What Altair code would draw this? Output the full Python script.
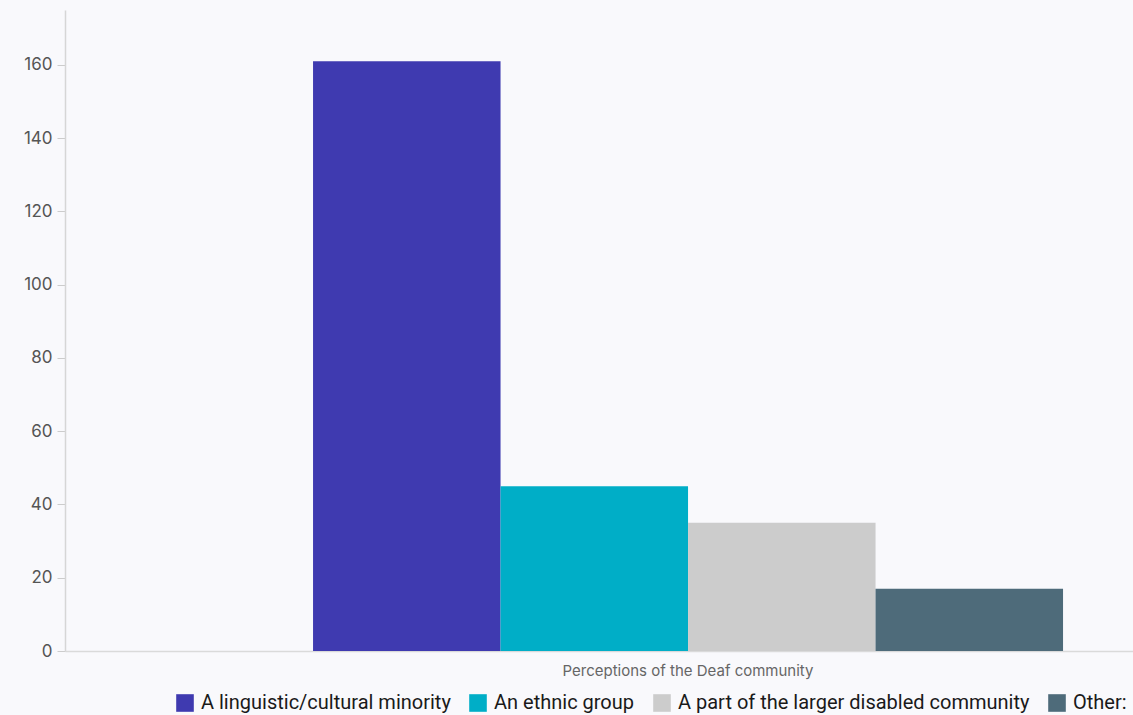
import altair as alt
import pandas as pd

group_label = "Perceptions of the Deaf community"
categories = [
    "A linguistic/cultural minority",
    "An ethnic group",
    "A part of the larger disabled community",
    "Other:",
]
counts = [161, 45, 35, 17]
colors = ["#3F3AB0", "#00AEC7", "#CCCCCC", "#4E6B7A"]
y_ticks = [0, 20, 40, 60, 80, 100, 120, 140, 160]

df = pd.DataFrame({
    "group": [group_label] * len(categories),
    "category": categories,
    "count": counts,
})

chart = alt.Chart(df).mark_bar().encode(
    x=alt.X(
        "group:N",
        title=None,
        scale=alt.Scale(paddingInner=0, paddingOuter=0.212, align=0.78),
        axis=alt.Axis(
            labelAngle=0, ticks=False, domainColor="#DADADA", domainWidth=1.5,
            labelColor="#666666", labelFontSize=15, labelFont="Inter",
            labelPadding=12, labelLimit=600,
        ),
    ),
    xOffset=alt.XOffset(
        "category:N", sort=categories,
        scale=alt.Scale(paddingInner=0, paddingOuter=0),
    ),
    y=alt.Y(
        "count:Q", title=None,
        scale=alt.Scale(domain=[0, 175], nice=False),
        axis=alt.Axis(
            values=y_ticks, grid=False, domainColor="#D6D6D6", domainWidth=1.5,
            tickColor="#CCCCCC", tickSize=8, labelPadding=5,
            labelColor="#555555", labelFontSize=17, labelFont="Inter",
        ),
    ),
    color=alt.Color(
        "category:N", sort=categories,
        scale=alt.Scale(domain=categories, range=colors),
        legend=alt.Legend(
            title=None, orient="none", direction="horizontal",
            legendX=110, legendY=683, symbolType="square", symbolSize=310,
            symbolStrokeWidth=0, symbolOpacity=1, labelFontSize=20,
            labelFont="Roboto", labelColor="#1A1A1A", labelOffset=6,
            columnPadding=17, labelLimit=600,
        ),
    ),
).properties(
    width=1068,
    height=641,
    background="#F9F9FC",
    padding={"left": 65, "top": 10, "right": 0, "bottom": 64},
    autosize=alt.AutoSizeParams(type="none"),
).configure_view(stroke=None)

chart.save("out.html", embed_options={"renderer": "svg", "actions": False})
